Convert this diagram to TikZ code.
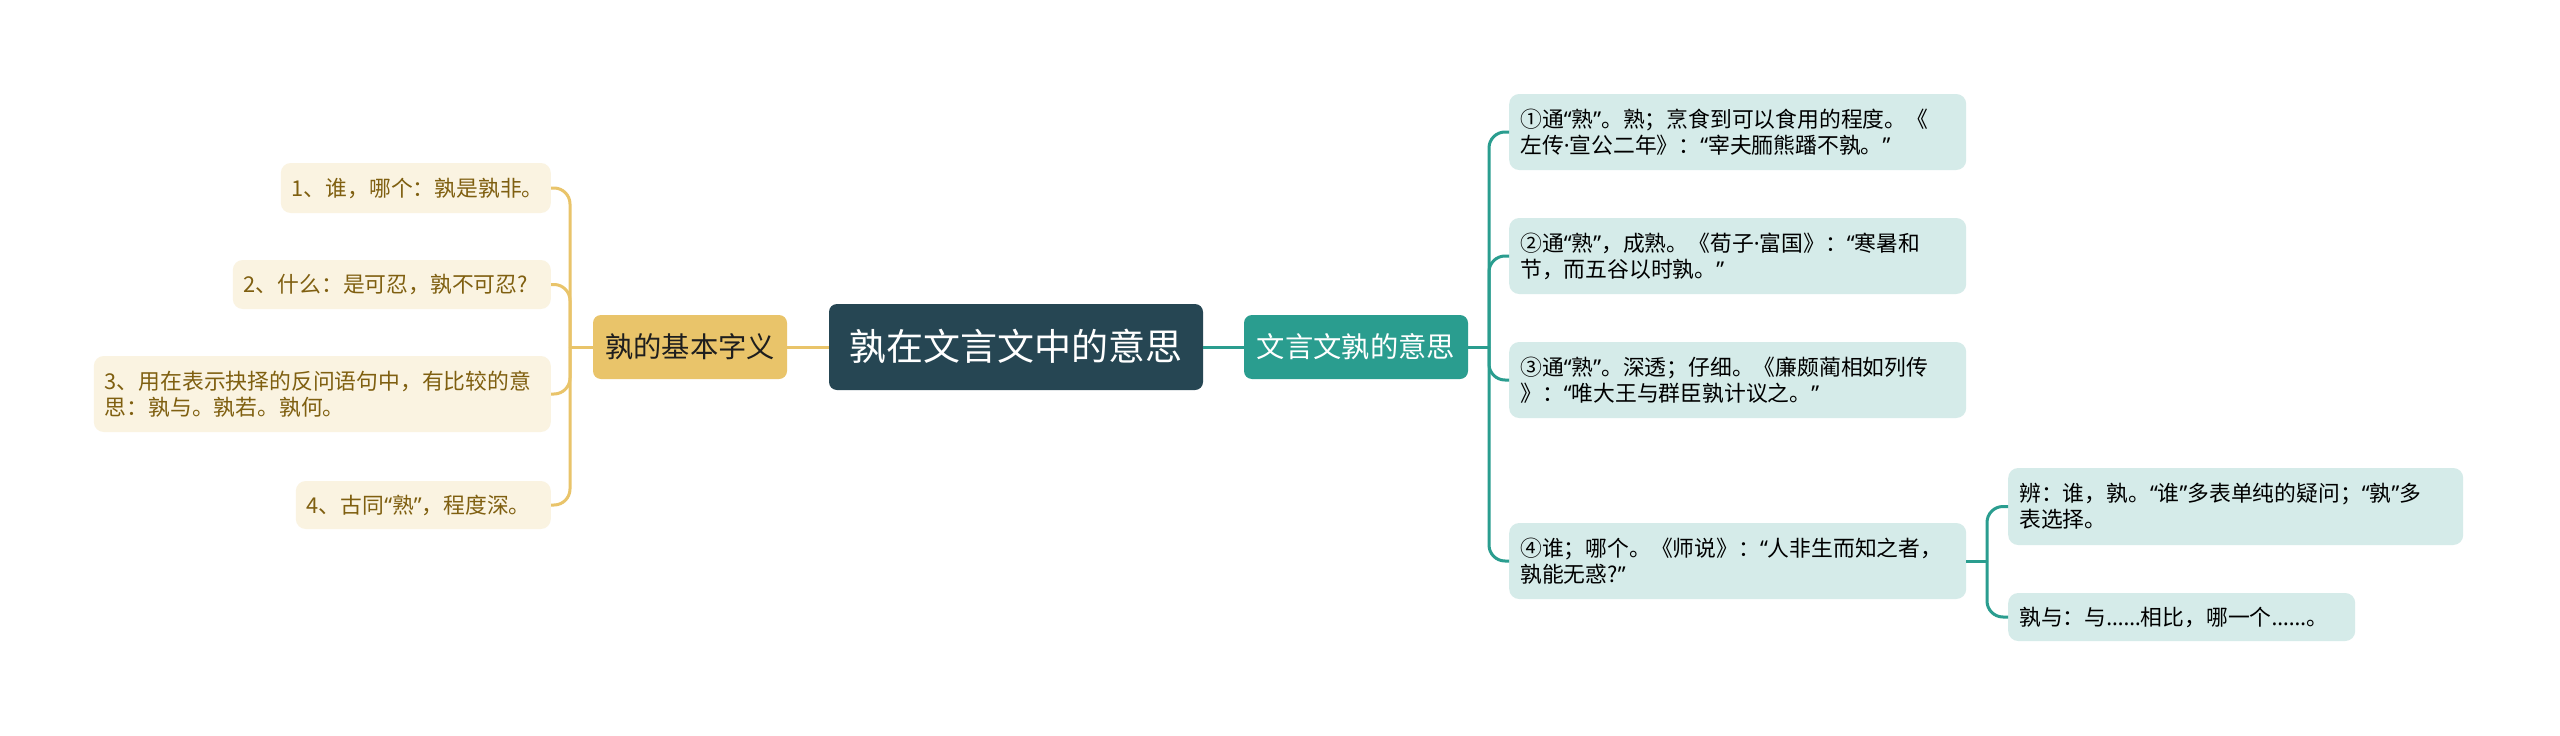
\documentclass[tikz,border=0pt]{standalone}
\usepackage{fontspec}
\setmainfont{Noto Sans CJK SC}
\newfontfamily\qfont{Noto Sans}
\newcommand\lqt{{\qfont “}}
\newcommand\rqt{{\qfont ”}}
\newcommand\mdt{{\qfont ·}}
\definecolor{cDark}{HTML}{264653}
\definecolor{cTeal}{HTML}{2A9D8F}
\definecolor{cGold}{HTML}{E9C46A}
\definecolor{cLeafL}{HTML}{FAF3E1}
\definecolor{cLeafLtext}{HTML}{7F5F10}
\definecolor{cLeafR}{HTML}{D5EBE9}
\definecolor{cMainLtext}{HTML}{1E1E1E}
\tikzset{
  leafL/.style={fill=cLeafL, rounded corners=10pt, text=cLeafLtext,
    font=\fontsize{21.8pt}{26pt}\selectfont, align=left, inner xsep=11pt, inner ysep=0pt, anchor=east},
  leafR/.style={fill=cLeafR, rounded corners=10pt, text=black,
    font=\fontsize{21.8pt}{26pt}\selectfont, align=left, inner xsep=11pt, inner ysep=0pt, anchor=west},
  mainbox/.style={rounded corners=8pt, inner sep=0pt, font=\fontsize{28.3pt}{32pt}\selectfont},
  connL/.style={draw=cGold, line width=3pt},
  connR/.style={draw=cTeal, line width=3pt},
}
\begin{document}
\begin{tikzpicture}[x=1pt,y=-1pt]
\useasboundingbox[fill=white] (0,0) rectangle (2560,736);

% central and main nodes
\node[fill=cDark, rounded corners=8pt, inner sep=0pt, text=white,
  minimum width=374pt, minimum height=86pt,
  font=\fontsize{37pt}{40pt}\selectfont] (C) at (1016,347) {孰在文言文中的意思};
\node[mainbox, fill=cGold, text=cMainLtext, minimum width=194pt, minimum height=64pt] (LM) at (690,347) {孰的基本字义};
\node[mainbox, fill=cTeal, text=white, minimum width=224pt, minimum height=64pt] (RM) at (1356,347) {文言文孰的意思};

% left leaves
\node[leafL, text width=248pt, minimum height=50pt] (L1) at (551,188) {1、谁，哪个：孰是孰非。};
\node[leafL, text width=296pt, minimum height=49pt] (L2) at (551,284.5) {2、什么：是可忍，孰不可忍?};
\node[leafL, text width=435pt, minimum height=76pt] (L3) at (551,394) {3、用在表示抉择的反问语句中，有比较的意\\思：孰与。孰若。孰何。};
\node[leafL, text width=233pt, minimum height=48pt] (L4) at (551,505) {4、古同\lqt 熟\rqt ，程度深。};

% right leaves
\node[leafR, text width=435pt, minimum height=76pt] (R1) at (1509,132) {①通\lqt 熟\rqt 。熟；烹食到可以食用的程度。《\\左传\mdt 宣公二年》：\lqt 宰夫胹熊蹯不孰。\rqt};
\node[leafR, text width=435pt, minimum height=76pt] (R2) at (1509,256) {②通\lqt 熟\rqt ，成熟。《荀子\mdt 富国》：\lqt 寒暑和\\节，而五谷以时孰。\rqt};
\node[leafR, text width=435pt, minimum height=76pt] (R3) at (1509,380) {③通\lqt 熟\rqt 。深透；仔细。《廉颇蔺相如列传\\》：\lqt 唯大王与群臣孰计议之。\rqt};
\node[leafR, text width=435pt, minimum height=76pt] (R4) at (1509,561) {④谁；哪个。《师说》：\lqt 人非生而知之者，\\孰能无惑?\rqt};

% sub leaves
\node[leafR, text width=433pt, minimum height=77pt] (S1) at (2008,506.5) {辨：谁，孰。\lqt 谁\rqt 多表单纯的疑问；\lqt 孰\rqt 多\\表选择。};
\node[leafR, text width=325pt, minimum height=48pt] (S2) at (2008,617) {孰与：与{\qfont ……}相比，哪一个{\qfont ……}。};

% junctions
\coordinate (jL) at (570,347);
\coordinate (jR) at (1489,347);
\coordinate (jS) at (1987,561);

% connectors
\draw[connL] (C.west) -- (LM.east);
\draw[connR] (C.east) -- (RM.west);

\draw[connL] (LM.west) -- (jL);
\draw[connL, rounded corners=16pt] (jL) |- (L1.east);
\draw[connL, rounded corners=16pt] (jL) |- (L2.east);
\draw[connL, rounded corners=16pt] (jL) |- (L3.east);
\draw[connL, rounded corners=16pt] (jL) |- (L4.east);

\draw[connR] (RM.east) -- (jR);
\draw[connR, rounded corners=16pt] (jR) |- (R1.west);
\draw[connR, rounded corners=16pt] (jR) |- (R2.west);
\draw[connR, rounded corners=16pt] (jR) |- (R3.west);
\draw[connR, rounded corners=16pt] (jR) |- (R4.west);

\draw[connR] (R4.east) -- (jS);
\draw[connR, rounded corners=16pt] (jS) |- (S1.west);
\draw[connR, rounded corners=16pt] (jS) |- (S2.west);
\end{tikzpicture}
\end{document}
